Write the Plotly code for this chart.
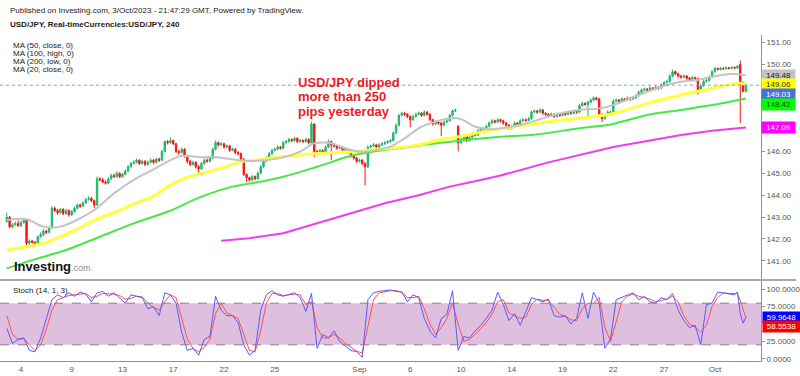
import plotly.graph_objects as go

# ---------------- data ----------------
tick_idx = [5, 23, 41, 59, 77, 95, 125, 143, 161, 179, 197, 215, 233, 251]
tick_text = ['4', '9', '13', '17', '22', '25', 'Sep', '6', '10', '14', '19', '22', '27', 'Oct']
price_ticks = [141, 142, 143, 144, 145, 146, 150, 151]   # 147-149 sit behind the value boxes
stoch_ticks = [0, 25, 75, 100]

opens = [
 142.80,143.00,142.55,142.65,142.70,142.60,142.75,142.85,141.80,141.90,
 141.85,141.75,142.10,142.20,142.35,142.30,142.50,143.40,143.30,143.20,
 143.35,143.15,143.30,143.10,143.25,143.40,143.55,143.50,143.65,143.80,
 143.85,143.75,143.55,144.75,144.70,144.60,144.55,144.75,144.90,144.85,
 145.00,144.85,144.95,145.10,145.30,145.45,145.50,145.60,145.45,145.55,
 145.40,145.50,145.60,145.50,145.65,145.60,146.00,146.45,146.40,146.50,
 146.35,146.00,145.95,146.10,145.80,145.55,145.40,145.50,145.30,145.20,
 145.45,145.60,145.55,145.70,146.10,146.40,146.30,146.35,146.20,146.25,
 146.05,146.10,145.95,145.90,145.65,144.95,144.80,144.70,144.85,144.75,
 145.00,145.30,145.55,145.70,145.90,146.05,146.10,146.20,146.15,146.40,
 146.45,146.55,146.50,146.60,146.45,146.50,146.45,146.55,146.40,147.25,
 146.00,145.90,146.05,145.95,146.20,146.45,146.30,146.25,146.15,146.20,
 146.05,146.10,145.95,145.80,145.70,145.55,145.60,145.45,145.30,146.20,
 146.25,146.30,146.20,146.30,146.35,146.40,146.45,146.50,146.85,147.20,
 147.65,147.75,147.70,147.60,147.45,147.60,147.70,147.75,147.65,147.80,
 147.70,147.45,147.25,147.35,147.30,147.20,147.35,147.40,147.65,147.85,
 147.15,146.40,146.55,146.70,146.50,146.65,146.80,146.75,146.95,147.05,
 147.00,147.15,147.30,147.40,147.35,147.45,147.40,147.30,147.20,147.05,
 147.15,147.30,147.25,147.40,147.45,147.42,147.50,147.80,147.85,147.80,
 147.90,147.75,147.70,147.65,147.70,147.60,147.70,147.65,147.75,147.70,
 147.80,147.75,147.85,147.80,148.10,148.20,148.15,148.25,148.35,148.45,
 148.40,147.70,147.50,147.65,147.80,147.75,148.30,148.35,148.30,148.40,
 148.35,148.45,148.40,148.45,148.55,148.70,148.80,148.85,148.80,148.90,
 148.85,148.95,148.90,149.05,149.15,149.20,149.45,149.65,149.55,149.45,
 149.40,149.45,149.35,149.30,149.38,149.33,148.80,149.00,149.20,149.25,
 149.40,149.65,149.80,149.75,149.80,149.78,149.83,149.80,149.85,149.82,
 149.98,149.15,148.75]

highs = [
 143.20,143.05,142.72,142.80,142.85,142.82,142.92,142.90,141.98,141.95,
 141.90,142.15,142.30,142.45,142.42,142.58,143.50,143.48,143.38,143.42,
 143.40,143.38,143.35,143.32,143.48,143.62,143.62,143.72,143.88,143.95,
 143.92,143.80,144.85,144.82,144.78,144.68,144.82,144.98,144.98,145.10,
 145.05,145.02,145.18,145.38,145.52,145.60,145.68,145.65,145.62,145.60,
 145.58,145.68,145.65,145.72,145.72,146.08,146.50,146.52,146.65,146.55,
 146.40,146.08,146.18,146.15,145.85,145.62,145.58,145.55,145.38,145.52,
 145.68,145.68,145.78,146.18,146.50,146.45,146.42,146.40,146.32,146.30,
 146.18,146.15,146.02,145.95,145.70,145.00,144.85,144.92,144.90,145.08,
 145.38,145.62,145.78,145.98,146.12,146.18,146.28,146.25,146.48,146.52,
 146.62,146.60,146.68,146.65,146.58,146.55,146.62,146.60,147.36,147.30,
 146.08,146.12,146.10,146.28,146.55,146.50,146.38,146.30,146.28,146.25,
 146.18,146.15,146.00,145.85,145.75,145.68,145.65,145.50,146.28,146.32,
 146.38,146.35,146.38,146.42,146.48,146.52,146.58,146.92,147.28,147.72,
 147.82,147.80,147.75,147.65,147.68,147.78,147.82,147.80,147.88,147.85,
 147.75,147.50,147.42,147.40,147.35,147.42,147.48,147.72,147.92,147.95,
 147.20,146.62,146.78,146.75,146.72,146.88,146.85,147.02,147.12,147.10,
 147.22,147.38,147.48,147.45,147.52,147.50,147.45,147.35,147.25,147.22,
 147.38,147.35,147.48,147.52,147.50,147.58,147.88,147.92,147.90,147.98,
 147.95,147.80,147.75,147.78,147.75,147.78,147.75,147.82,147.80,147.88,
 147.85,147.92,147.90,148.18,148.28,148.25,148.32,148.42,148.52,148.50,
 148.45,147.75,147.72,147.88,147.85,148.38,148.42,148.40,148.48,148.45,
 148.52,148.50,148.52,148.62,148.78,148.88,148.92,148.90,148.98,148.95,
 149.02,149.00,149.12,149.22,149.28,149.52,149.75,149.70,149.60,149.50,
 149.52,149.50,149.40,149.45,149.42,149.38,149.08,149.28,149.32,149.48,
 149.72,149.86,149.84,149.86,149.85,149.88,149.87,149.90,149.88,149.95,
 150.16,149.20,149.10]

lows = [
 142.75,142.50,142.48,142.60,142.55,142.55,142.70,141.63,141.72,141.78,
 141.65,141.70,142.05,142.12,142.22,142.25,142.45,143.22,143.10,143.15,
 143.08,143.10,143.02,143.05,143.20,143.35,143.42,143.45,143.60,143.75,
 143.68,143.40,143.50,144.62,144.55,144.48,144.50,144.70,144.78,144.80,
 144.78,144.80,144.90,145.05,145.25,145.40,145.45,145.38,145.40,145.33,
 145.35,145.45,145.42,145.45,145.52,145.55,145.95,146.32,146.35,146.28,
 145.92,145.85,145.90,145.72,145.45,145.32,145.35,145.22,145.00,145.15,
 145.40,145.48,145.50,145.65,146.05,146.22,146.25,146.12,146.15,145.98,
 146.00,145.88,145.82,145.58,144.88,144.60,144.62,144.65,144.68,144.70,
 144.95,145.25,145.50,145.65,145.85,146.00,146.05,146.08,146.10,146.35,
 146.40,146.42,146.45,146.38,146.40,146.38,146.40,146.33,146.35,145.75,
 145.82,145.85,145.88,145.90,146.15,145.60,146.18,146.08,146.10,145.98,
 146.00,145.88,145.72,145.62,145.48,145.48,145.38,144.45,145.25,146.15,
 146.20,146.12,146.15,146.25,146.30,146.35,146.40,146.45,146.80,147.15,
 147.60,147.62,147.52,147.10,147.40,147.55,147.65,147.58,147.60,147.62,
 147.38,147.18,147.20,147.22,146.70,147.15,147.30,147.35,147.60,147.80,
 146.00,146.32,146.50,146.42,146.45,146.60,146.68,146.70,146.90,146.92,
 146.95,147.10,147.25,147.28,147.30,147.32,147.22,147.12,146.98,147.00,
 147.10,147.18,147.20,147.35,147.35,147.38,147.45,147.75,147.72,147.75,
 147.68,147.62,147.58,147.60,147.52,147.55,147.58,147.60,147.62,147.65,
 147.68,147.70,147.72,147.75,148.05,148.08,147.60,148.20,148.30,148.32,
 147.62,147.35,147.45,147.60,147.68,147.70,148.25,148.22,148.25,148.28,
 148.30,148.32,148.35,148.40,148.50,148.65,148.75,148.72,148.75,148.78,
 148.80,148.82,148.85,149.00,149.10,149.15,149.40,149.48,149.38,149.32,
 149.35,149.28,149.22,149.25,149.26,148.60,148.75,148.95,149.15,149.20,
 149.35,149.60,149.70,149.70,149.72,149.74,149.75,149.76,149.77,149.78,
 147.30,148.70,148.70]

closes = [
 143.00,142.55,142.65,142.70,142.60,142.75,142.85,141.80,141.90,141.85,
 141.75,142.10,142.20,142.35,142.30,142.50,143.40,143.30,143.20,143.35,
 143.15,143.30,143.10,143.25,143.40,143.55,143.50,143.65,143.80,143.85,
 143.75,143.55,144.75,144.70,144.60,144.55,144.75,144.90,144.85,145.00,
 144.85,144.95,145.10,145.30,145.45,145.50,145.60,145.45,145.55,145.40,
 145.50,145.60,145.50,145.65,145.60,146.00,146.45,146.40,146.50,146.35,
 146.00,145.95,146.10,145.80,145.55,145.40,145.50,145.30,145.20,145.45,
 145.60,145.55,145.70,146.10,146.40,146.30,146.35,146.20,146.25,146.05,
 146.10,145.95,145.90,145.65,144.95,144.80,144.70,144.85,144.75,145.00,
 145.30,145.55,145.70,145.90,146.05,146.10,146.20,146.15,146.40,146.45,
 146.55,146.50,146.60,146.45,146.50,146.45,146.55,146.40,147.25,146.00,
 145.90,146.05,145.95,146.20,146.45,146.30,146.25,146.15,146.20,146.05,
 146.10,145.95,145.80,145.70,145.55,145.60,145.45,145.30,146.20,146.25,
 146.30,146.20,146.30,146.35,146.40,146.45,146.50,146.85,147.20,147.65,
 147.75,147.70,147.60,147.45,147.60,147.70,147.75,147.65,147.80,147.70,
 147.45,147.25,147.35,147.30,147.20,147.35,147.40,147.65,147.85,147.90,
 146.40,146.55,146.70,146.50,146.65,146.80,146.75,146.95,147.05,147.00,
 147.15,147.30,147.40,147.35,147.45,147.40,147.30,147.20,147.05,147.15,
 147.30,147.25,147.40,147.45,147.42,147.50,147.80,147.85,147.80,147.90,
 147.75,147.70,147.65,147.70,147.60,147.70,147.65,147.75,147.70,147.80,
 147.75,147.85,147.80,148.10,148.20,148.15,148.25,148.35,148.45,148.40,
 147.70,147.50,147.65,147.80,147.75,148.30,148.35,148.30,148.40,148.35,
 148.45,148.40,148.45,148.55,148.70,148.80,148.85,148.80,148.90,148.85,
 148.95,148.90,149.05,149.15,149.20,149.45,149.65,149.55,149.45,149.40,
 149.45,149.35,149.30,149.38,149.33,148.80,149.00,149.20,149.25,149.40,
 149.65,149.80,149.75,149.80,149.78,149.83,149.80,149.85,149.82,149.90,
 149.15,148.75,149.03]

ma20_idx = [0,7,13,19,26,31,38,45,52,58,62,69,73,80,86,97,104,109,115,120,
            125,131,136,141,147,152,157,161,166,171,175,182,189,196,203,210,215,221,227,234,
            239,245,250,257,262]
ma20 = [142.86,142.90,142.56,142.56,142.94,143.32,144.08,144.70,145.18,145.60,
        145.80,145.73,145.76,145.64,145.56,145.70,145.99,146.37,146.37,146.14,
        145.99,146.07,146.22,146.60,147.13,147.36,147.52,147.48,147.13,147.02,
        147.06,147.21,147.47,147.74,147.90,147.97,148.12,148.43,148.73,149.04,
        149.19,149.27,149.42,149.54,149.48]

ma50_idx = [0,7,13,19,25,31,38,45,52,57,63,69,76,83,90,93,104,112,122,129,
            136,146,153,160,169,180,192,203,215,227,239,250,260,262]
ma50 = [141.49,141.64,141.80,142.10,142.45,142.85,143.20,143.60,143.95,144.39,
        144.77,145.00,145.23,145.53,145.62,145.69,145.84,145.92,145.99,146.07,
        146.14,146.30,146.52,146.67,146.90,147.13,147.36,147.52,147.74,148.20,
        148.58,148.89,149.12,149.06]

ma100_idx = [0,9,21,33,45,57,69,80,90,98,110,122,128,139,151,161,175,186,203,215,
             227,239,250,262]
ma100 = [140.65,141.03,141.49,142.10,142.71,143.24,143.93,144.39,144.62,144.84,
         145.30,145.80,145.95,146.15,146.35,146.50,146.67,146.75,147.06,147.26,
         147.67,147.90,148.12,148.42]

ma200_idx = [76,86,98,110,122,134,146,157,168,175,192,215,239,250,262]
ma200 = [141.92,142.03,142.26,142.71,143.17,143.63,144.00,144.39,144.69,144.90,
         145.50,146.20,146.75,146.95,147.09]

stoch_idx = list(range(0, 259, 2)) + [259, 260, 261, 262]
stoch_k = [
 44,22,28,30,12,10,30,58,85,92, 88,95,90,96,93,82,95,97,90,95,
 88,80,92,90,88,72,75,62,95,92, 80,38,12,15,5,28,32,90,70,62,
 62,52,20,5,12,70,92,98,92,90, 93,95,88,68,94,15,35,30,40,25,
 18,12,10,2,85,95,97,98,99,97, 96,82,92,88,58,40,30,58,64,98,
 12,32,30,40,48,58,70,96,78,55, 65,48,68,88,85,82,86,62,60,62,
 50,58,95,58,96,80,15,28,85,88, 92,95,85,90,82,80,88,85,94,70,
 55,45,48,20,78,80,96,95,94,92, 96,65,51,59.9648]
stoch_d = [
 62,35,28,29,20,12,20,42,70,85, 88,91,92,93,94,88,90,94,94,93,
 91,86,87,90,89,80,74,70,82,92, 88,58,28,15,10,16,28,65,80,66,
 62,58,35,12,10,40,80,94,94,91, 92,93,92,78,82,45,30,30,35,30,
 22,16,11,8,45,85,95,97,98,98, 96,88,88,90,72,50,35,45,58,80,
 50,25,28,35,44,52,64,82,85,66, 62,58,60,78,86,84,84,74,64,61,
 56,55,72,80,80,88,45,25,55,82, 90,93,90,88,86,82,84,86,90,82,
 62,50,46,38,48,75,88,95,94,94, 94,84,70,58.5538]

# ---------------- geometry ----------------
W, H = 800, 376
PLOT_R = 760.7      # right edge of plot area (px)
TOP, SPLIT, BOT = 35, 280, 361
PH = BOT - TOP
split = (BOT - SPLIT) / PH
y_main = [140.119, 151.327]
y_sto = [-3.3, 113.4]
x_rng = [-2.41, 267.35]
px_per_yen = (SPLIT - TOP) / (y_main[1] - y_main[0])
px_per_sto = (BOT - SPLIT) / (y_sto[1] - y_sto[0])

def px(xp):
    return xp / PLOT_R

def py(yp):
    return (BOT - yp) / PH

FONT = "Liberation Sans, Arial, sans-serif"
idx = list(range(len(closes)))

fig = go.Figure()

# moving averages (under candles)
fig.add_trace(go.Scatter(x=ma200_idx, y=ma200, mode='lines', line=dict(color='#f03cf0', width=2), hoverinfo='skip'))
fig.add_trace(go.Scatter(x=ma100_idx, y=ma100, mode='lines', line=dict(color='#46e846', width=2), line_shape='spline', hoverinfo='skip'))
fig.add_trace(go.Scatter(x=ma50_idx, y=ma50, mode='lines', line=dict(color='#ffff3c', width=3), line_shape='spline', hoverinfo='skip'))
fig.add_trace(go.Scatter(x=ma20_idx, y=ma20, mode='lines', line=dict(color='#c4c4c4', width=2), line_shape='spline', hoverinfo='skip'))

fig.add_trace(go.Candlestick(
    x=idx, open=opens, high=highs, low=lows, close=closes,
    increasing=dict(line=dict(color='#1fb86c', width=1), fillcolor='#1fb86c'),
    decreasing=dict(line=dict(color='#f21616', width=1), fillcolor='#f21616'),
    whiskerwidth=0, hoverinfo='skip', yaxis='y'))

fig.add_trace(go.Scatter(x=stoch_idx, y=stoch_d, mode='lines', line=dict(color='#ff5050', width=1), yaxis='y2', hoverinfo='skip'))
fig.add_trace(go.Scatter(x=stoch_idx, y=stoch_k, mode='lines', line=dict(color='#5a5aff', width=1), yaxis='y2', hoverinfo='skip'))

shapes = [
    dict(type='rect', xref='paper', yref='y2', x0=0, x1=1, y0=20, y1=80,
         fillcolor='#dec0de', line=dict(width=0), layer='below'),
    dict(type='line', xref='paper', yref='y2', x0=0, x1=1, y0=80, y1=80,
         line=dict(color='#8c7890', width=1, dash='dash')),
    dict(type='line', xref='paper', yref='y2', x0=0, x1=1, y0=20, y1=20,
         line=dict(color='#8c7890', width=1, dash='dash')),
    dict(type='line', xref='paper', yref='y', x0=0, x1=1, y0=closes[-1], y1=closes[-1],
         line=dict(color='#7f9be0', width=1, dash='dot')),
    dict(type='line', xref='paper', yref='paper', x0=0, x1=796 / PLOT_R, y0=split, y1=split,
         line=dict(color='#a8a8a8', width=2)),
]

ann = []
def text(x, y, t, size=8, color='#222', bold=False, family=FONT):
    ann.append(dict(xref='paper', yref='paper', x=px(x), y=py(y), text=('<b>%s</b>' % t) if bold else t,
                    showarrow=False, xanchor='left', yanchor='middle',
                    font=dict(size=size, color=color, family=family)))

text(8, 10, 'Published on Investing.com, 3/Oct/2023 - 21:47:29 GMT, Powered by TradingView.', size=8)
text(8, 25, 'USD/JPY, Real-timeCurrencies:USD/JPY, 240', size=8, bold=True)
for i, t in enumerate(['MA (50, close, 0)', 'MA (100, high, 0)', 'MA (200, low, 0)', 'MA (20, close, 0)']):
    text(11, 45 + i * 8.2, t, size=8)
for i, t in enumerate(['USD/JPY dipped', 'more than 250', 'pips yesterday']):
    text(296, 82.5 + i * 14.3, t, size=13, color='#ec1c24', bold=True)
ann.append(dict(xref='paper', yref='paper', x=px(12), y=py(266), showarrow=False, xanchor='left', yanchor='middle',
                text="<b>Investing</b><span style='font-size:9px;color:#8a8a8a'>.com</span>",
                font=dict(size=13, color='#111', family=FONT)))
text(11, 290, 'Stoch (14, 1, 3)', size=8)

# right-side value boxes (main panel), stacked to avoid overlap
boxes = [(ma20[-1], '#c3c3c3', '#222'), (ma50[-1], '#ffff00', '#333'), (closes[-1], '#4a70e0', '#ffffff'),
         (ma100[-1], '#00ff00', '#1a4a1a'), (ma200[-1], '#ff00ff', '#ffffff')]
gap = 9.6 / px_per_yen
prev = None
for val, bg, fg in sorted(boxes, key=lambda b: -b[0]):
    pos = val if prev is None else min(val, prev - gap)
    prev = pos
    ann.append(dict(xref='paper', yref='y', x=1, y=pos, xanchor='left', yanchor='middle', xshift=0,
                    text='%.2f' % val, showarrow=False, bgcolor=bg, borderpad=1, width=31,
                    font=dict(size=8, color=fg, family=FONT)))
sgap = 9.6 / px_per_sto
ann.append(dict(xref='paper', yref='y2', x=1, y=stoch_k[-1], xanchor='left', yanchor='middle', xshift=1,
                text='%.4f' % stoch_k[-1], showarrow=False, bgcolor='#0000ff', borderpad=1, width=35,
                font=dict(size=8, color='#ffffff', family=FONT)))
ann.append(dict(xref='paper', yref='y2', x=1, y=stoch_k[-1] - sgap, xanchor='left', yanchor='middle', xshift=1,
                text='%.4f' % stoch_d[-1], showarrow=False, bgcolor='#ff0000', borderpad=1, width=35,
                font=dict(size=8, color='#ffffff', family=FONT)))

axis_common = dict(showgrid=False, zeroline=False, showline=True, linecolor='#909090', linewidth=1,
                   ticks='outside', ticklen=3, tickcolor='#909090', side='right',
                   tickfont=dict(size=8, color='#555', family=FONT), fixedrange=True)

fig.update_layout(
    width=W, height=H, margin=dict(l=0, r=W - PLOT_R, t=TOP, b=H - BOT),
    paper_bgcolor='white', plot_bgcolor='white', showlegend=False,
    xaxis=dict(range=x_rng, anchor='y2', tickvals=tick_idx, ticktext=tick_text, showgrid=False,
               zeroline=False, showline=True, linecolor='#909090', ticks='', fixedrange=True,
               tickfont=dict(size=8, color='#555', family=FONT), rangeslider=dict(visible=False)),
    yaxis=dict(domain=[split, 1], range=y_main, anchor='x', tickvals=price_ticks,
               tickformat='.2f', **axis_common),
    yaxis2=dict(domain=[0, split], range=y_sto, anchor='x', tickvals=stoch_ticks,
                tickformat='.4f', **axis_common),
    shapes=shapes, annotations=ann, hovermode=False,
)

# the page body has a default 8px margin; remove it so the figure sits at the window origin
fig.write_html("out.html", config={'displayModeBar': False},
               post_script="document.body.style.margin='0';document.body.style.overflow='hidden';")
